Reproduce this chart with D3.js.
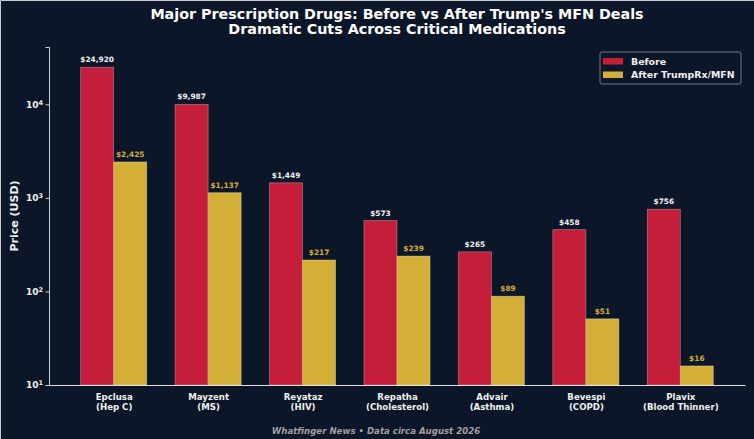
<!DOCTYPE html>
<html>
<head>
<meta charset="utf-8">
<script src="https://cdn.jsdelivr.net/npm/d3@7"></script>
<style>
  html, body { margin: 0; padding: 0; background: #0b1628; }
  svg { display: block; }
  text { font-family: "DejaVu Sans", sans-serif; }
</style>
</head>
<body>
<div id="vis"></div>
<script>
// chart data
var drugs = ["Epclusa", "Mayzent", "Reyataz", "Repatha", "Advair", "Bevespi", "Plavix"];
var conditions = ["(Hep C)", "(MS)", "(HIV)", "(Cholesterol)", "(Asthma)", "(COPD)", "(Blood Thinner)"];
var beforePrices = [24920, 9987, 1449, 573, 265, 458, 756];
var afterPrices = [2425, 1137, 217, 239, 89, 51, 16];
var seriesNames = ["Before", "After TrumpRx/MFN"];
var yTicks = [10, 100, 1000, 10000];

var W = 754, H = 439;
var margin = {top: 47, right: 9, bottom: 54, left: 49};
var width = W - margin.left - margin.right,
    height = H - margin.top - margin.bottom;

var bg = "#0b1628", red = "#c41e3a", gold = "#d4af37";
var barW = 0.35;

var svg = d3.select("#vis").append("svg")
    .attr("width", W)
    .attr("height", H);

svg.append("rect").attr("width", W).attr("height", H).attr("fill", bg);
// thin light edge along top and left of the picture
svg.append("path")
    .attr("d", "M0.5," + H + "V0.5H" + W)
    .attr("fill", "none")
    .attr("stroke", "#c8ccd2")
    .attr("stroke-width", 1);

var g = svg.append("g")
    .attr("transform", "translate(" + margin.left + "," + margin.top + ")");

// x: group index with matplotlib-like margins
var x = d3.scaleLinear()
    .domain([-0.685, drugs.length - 1 + 0.685])
    .range([0, width]);

var y = d3.scaleLog()
    .domain([10, 41000])
    .range([height, 0]);

var fmt = d3.format(",");

// bars
var series = [
  {name: seriesNames[0], values: beforePrices, color: red, off: -barW / 2, label: "#f0f0f0"},
  {name: seriesNames[1], values: afterPrices, color: gold, off: barW / 2, label: gold}
];

series.forEach(function(s) {
  g.selectAll(null)
      .data(s.values)
      .enter()
      .append("rect")
      .attr("x", function(d, i) { return x(i + s.off - barW / 2); })
      .attr("width", x(barW) - x(0))
      .attr("y", function(d) { return y(d); })
      .attr("height", function(d) { return height - y(d); })
      .attr("fill", s.color)
      .attr("stroke", "rgba(255,255,255,0.35)")
      .attr("stroke-width", 0.8);

  g.selectAll(null)
      .data(s.values)
      .enter()
      .append("text")
      .attr("x", function(d, i) { return x(i + s.off); })
      .attr("y", function(d) { return y(d) - 5; })
      .attr("text-anchor", "middle")
      .attr("font-size", "7.4px")
      .attr("font-weight", "bold")
      .attr("fill", s.label)
      .text(function(d) { return "$" + fmt(d); });
});

// y axis
var yAxis = g.append("g")
    .call(d3.axisLeft(y).tickValues(yTicks).tickSize(3.5).tickPadding(3).tickFormat(function() { return ""; }));
yAxis.select(".domain").attr("stroke", "#cfcfcf");
yAxis.selectAll(".tick line").attr("stroke", "#cfcfcf");
yAxis.selectAll(".tick text").remove();
yAxis.selectAll(".tick").append("text")
    .attr("x", -6)
    .attr("dy", "0.32em")
    .attr("text-anchor", "end")
    .attr("fill", "#f0f0f0")
    .attr("font-size", "9px")
    .attr("font-weight", "bold")
    .each(function(d) {
      var t = d3.select(this);
      t.append("tspan").text("10");
      t.append("tspan").attr("dy", "-0.45em").attr("font-size", "6.5px").text(Math.round(Math.log10(d)));
    });

// x axis
var xAxis = g.append("g")
    .attr("transform", "translate(0," + height + ")")
    .call(d3.axisBottom(x).tickValues(d3.range(drugs.length)).tickSize(0).tickFormat(function() { return ""; }));
xAxis.select(".domain").attr("stroke", "#e0e0e0").attr("stroke-width", 1.2);
xAxis.selectAll(".tick text").remove();
xAxis.selectAll(".tick").append("text")
    .attr("fill", "#f0f0f0")
    .attr("font-size", "8.6px")
    .attr("font-weight", "bold")
    .attr("text-anchor", "middle")
    .each(function(d) {
      var t = d3.select(this);
      t.append("tspan").attr("x", 0).attr("y", 14.5).text(drugs[d]);
      t.append("tspan").attr("x", 0).attr("y", 24.5).text(conditions[d]);
    });

// y label
svg.append("text")
    .attr("transform", "translate(18," + (margin.top + height / 2) + ") rotate(-90)")
    .attr("text-anchor", "middle")
    .attr("fill", "#f0f0f0")
    .attr("font-size", "11px")
    .attr("font-weight", "bold")
    .text("Price (USD)");

// title
svg.append("text")
    .attr("x", 397).attr("y", 18.5)
    .attr("text-anchor", "middle")
    .attr("fill", "#ffffff")
    .attr("font-size", "14.3px")
    .attr("font-weight", "bold")
    .text("Major Prescription Drugs: Before vs After Trump's MFN Deals");
svg.append("text")
    .attr("x", 397).attr("y", 33.5)
    .attr("text-anchor", "middle")
    .attr("fill", "#ffffff")
    .attr("font-size", "14.3px")
    .attr("font-weight", "bold")
    .text("Dramatic Cuts Across Critical Medications");

// legend
var lg = svg.append("g").attr("transform", "translate(600,52)");
lg.append("rect")
    .attr("width", 141).attr("height", 32)
    .attr("rx", 2)
    .attr("fill", bg)
    .attr("stroke", "#8a8f99")
    .attr("stroke-width", 0.8);
series.forEach(function(s, i) {
  lg.append("rect")
      .attr("x", 3).attr("y", 6 + i * 13.5)
      .attr("width", 20).attr("height", 6.5)
      .attr("fill", s.color);
  lg.append("text")
      .attr("x", 31).attr("y", 12.5 + i * 13.5)
      .attr("fill", "#f0f0f0")
      .attr("font-size", "9.4px")
      .attr("font-weight", "bold")
      .text(s.name);
});

// footer
svg.append("text")
    .attr("x", 376).attr("y", 433.5)
    .attr("text-anchor", "middle")
    .attr("fill", "#a0a0a0")
    .attr("font-size", "8.6px")
    .attr("font-weight", "bold")
    .attr("font-style", "italic")
    .text("Whatfinger News \u2022 Data circa August 2026");
</script>
</body>
</html>
